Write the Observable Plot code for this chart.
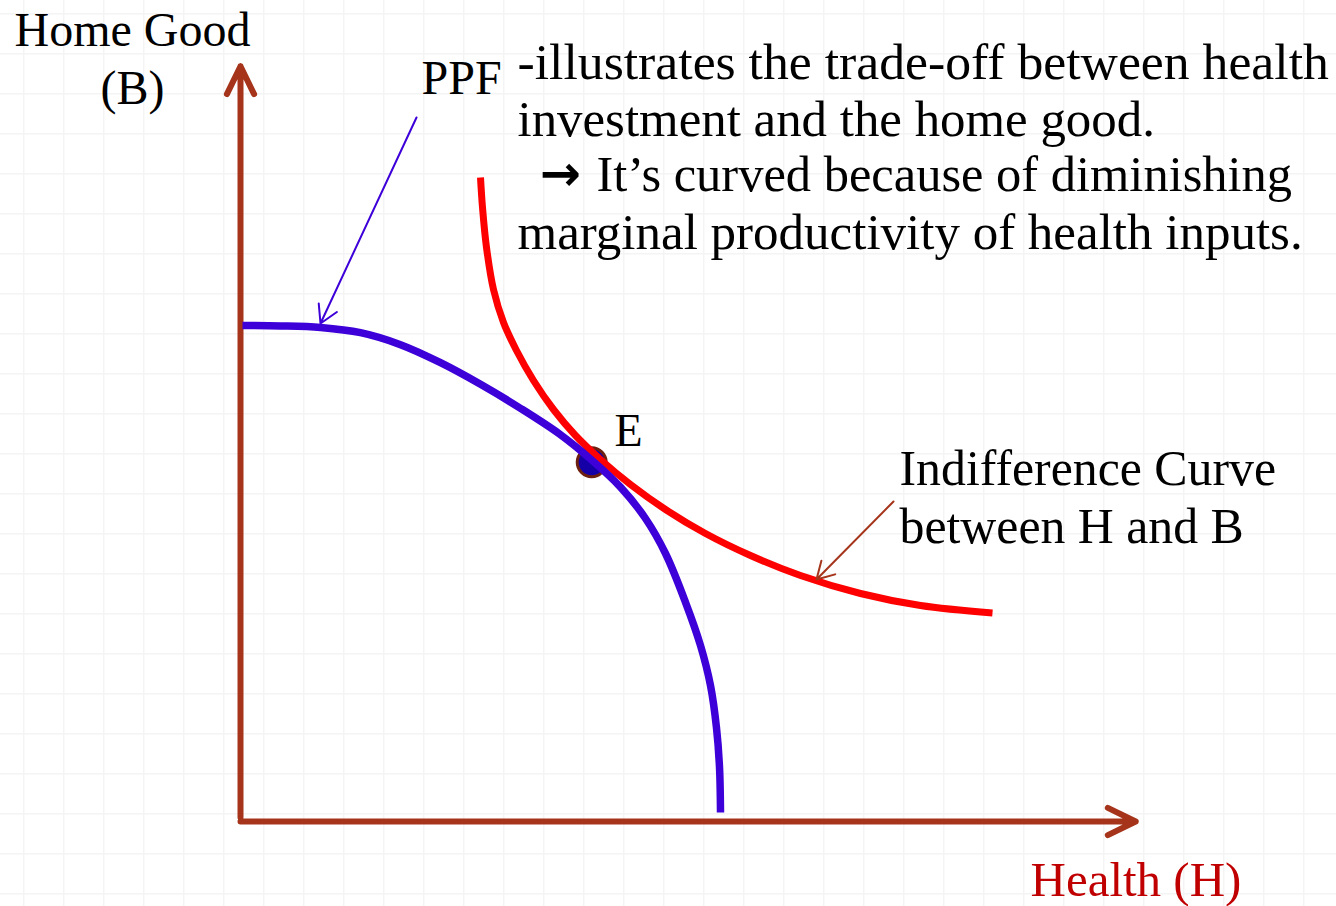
<!DOCTYPE html>
<html><head><meta charset="utf-8">
<script src="https://cdn.jsdelivr.net/npm/d3@7"></script>
<script src="https://cdn.jsdelivr.net/npm/@observablehq/plot@0.6"></script>
<style>html,body{margin:0;padding:0;background:#fff;} svg{display:block}</style>
</head><body><div id="chart"></div>
<script>
// Production possibility frontier (Health H, Home good B)
const ppfH = [0.025, 0.5, 1.0, 1.5, 2.0, 2.5, 3.0, 3.5, 4.0, 4.4, 4.75, 5.0625, 5.3125, 5.5625, 5.75, 5.875, 5.95, 5.9875, 6.0];
const ppfB = [6.2, 6.195, 6.175, 6.11, 5.96, 5.735, 5.465, 5.165, 4.835, 4.51, 4.18, 3.7875, 3.35, 2.74, 2.2, 1.7, 1.17, 0.68, 0.1125];
// Indifference curve
const icH = [3.0, 3.025, 3.075, 3.1625, 3.2875, 3.45, 3.6625, 3.9125, 4.1875, 4.5, 4.875, 5.3125, 5.8125, 6.375, 7.0, 7.75, 8.5, 9.4];
const icB = [8.05, 7.675, 7.175, 6.65, 6.2375, 5.8875, 5.5125, 5.15, 4.825, 4.525, 4.2125, 3.9, 3.6, 3.325, 3.075, 2.85, 2.7, 2.606];
// Equilibrium point
const eqH = [4.39];
const eqB = [4.49];
// Texts
const yLabel = "Home Good\n(B)";
const xLabel = "Health (H)";
const ppfLabel = "PPF";
const noteLine1 = "-illustrates the trade-off between health";
const noteLine2 = "investment and the home good.";
const noteArrow = "\u2192";
const noteLine3 = "It\u2019s curved because of diminishing";
const noteLine4 = "marginal productivity of health inputs.";
const icLabel = "Indifference Curve\nbetween H and B";
const eqLabel = "E";

const ppf = ppfH.map((h, i) => ({H: h, B: ppfB[i]}));
const ic = icH.map((h, i) => ({H: h, B: icB[i]}));
const eq = eqH.map((h, i) => ({H: h, B: eqB[i]}));

const axisColor = "#a5341a";
const blue = "#3d00d9";
const serif = "Liberation Serif";
const label = (t, opts) => Plot.text([t], {text: d => d, textAnchor: "start", lineAnchor: "bottom", fill: "#000", ...opts});

const chart = Plot.plot({
  width: 1336,
  height: 906,
  margin: 0,
  x: {domain: [-3, 13.7], axis: null},
  y: {domain: [-1.0625, 10.2625], axis: null},
  style: {fontFamily: serif, background: "#fff", overflow: "visible"},
  marks: [
    Plot.ruleX(d3.range(-2.71, 13.7, 0.5), {stroke: "#f4f4f4", strokeWidth: 1.5}),
    Plot.ruleY(d3.range(10.096, -1.1, -0.5), {stroke: "#f4f4f4", strokeWidth: 1.5}),
    Plot.arrow([{x1: 0, y1: 0.05, x2: 0, y2: 9.44}, {x1: 0, y1: 0, x2: 11.19, y2: 0}], {
      x1: "x1", y1: "y1", x2: "x2", y2: "y2",
      stroke: axisColor, strokeWidth: 6, headLength: 7.75, headAngle: 52,
      strokeLinecap: "round", strokeLinejoin: "round"
    }),
    Plot.dot(eq, {x: "H", y: "B", r: 14.5, fill: "#1400a6", stroke: "#6e2010", strokeWidth: 3}),
    Plot.line(ic, {x: "H", y: "B", curve: "catmull-rom", stroke: "#ff0000", strokeWidth: 7, strokeLinecap: "butt"}),
    Plot.line(ppf, {x: "H", y: "B", curve: "catmull-rom", stroke: blue, strokeWidth: 7.5, strokeLinecap: "butt"}),
    Plot.arrow([{x1: 2.2, y1: 8.8, x2: 1.0, y2: 6.225}], {
      x1: "x1", y1: "y1", x2: "x2", y2: "y2",
      stroke: blue, strokeWidth: 2, headLength: 15, headAngle: 60, strokeLinecap: "round"
    }),
    Plot.arrow([{x1: 8.1625, y1: 4.0, x2: 7.2, y2: 3.025}], {
      x1: "x1", y1: "y1", x2: "x2", y2: "y2",
      stroke: axisColor, strokeWidth: 2, headLength: 14.5, headAngle: 60, strokeLinecap: "round"
    }),
    label(yLabel, {x: -1.35, y: 8.975, fontSize: 48, textAnchor: "middle", lineHeight: 1.2}),
    label(ppfLabel, {x: 2.2625, y: 9.1, fontSize: 48}),
    label(noteLine1, {x: 3.4625, y: 9.2875, fontSize: 51.7}),
    label(noteLine2, {x: 3.4625, y: 8.575, fontSize: 50.9}),
    label(noteArrow, {x: 3.74, y: 7.9, fontSize: 49, fontFamily: "DejaVu Sans", fontWeight: 600}),
    label(noteLine3, {x: 4.45, y: 7.8875, fontSize: 50.5}),
    label(noteLine4, {x: 3.4625, y: 7.1625, fontSize: 51}),
    label(eqLabel, {x: 4.675, y: 4.7, fontSize: 46}),
    label(icLabel, {x: 8.2375, y: 3.4875, fontSize: 49.8, lineHeight: 1.15}),
    label(xLabel, {x: 9.875, y: -0.925, fontSize: 49, fill: "#c00000"})
  ]
});
document.getElementById("chart").appendChild(chart);
</script>
</body></html>
